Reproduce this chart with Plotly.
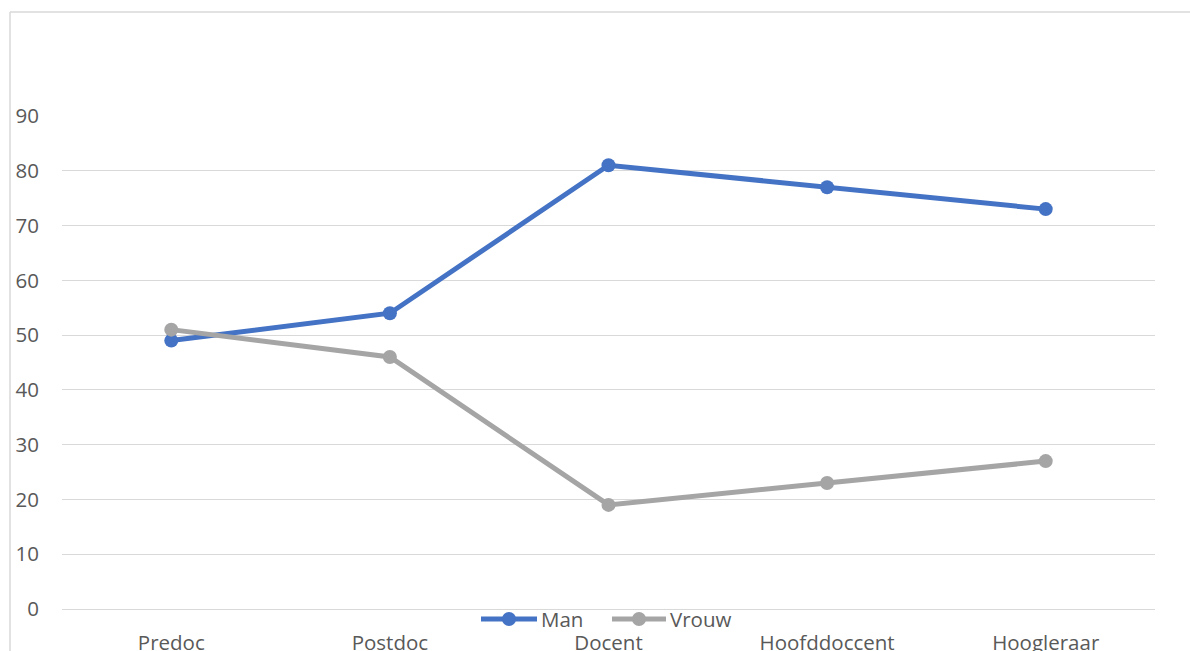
import plotly.graph_objects as go

# Staff categories and gender shares (%)
categories = ["Predoc", "Postdoc", "Docent", "Hoofddoccent", "Hoogleraar"]
man = [49, 54, 81, 77, 73]
vrouw = [51, 46, 19, 23, 27]
y_ticks = [0, 10, 20, 30, 40, 50, 60, 70, 80, 90]

W, H = 1190, 651
L, R, T, B = 62, 35, 116, 42
PW, PH = W - L - R, H - T - B
FONT = "'Open Sans', sans-serif"
FS = 20.5
TXT = "#595959"
BLUE, GREY = "#4472C4", "#A5A5A5"


def px(x):
    return (x - L) / PW


def py(y):
    return (H - B - y) / PH


fig = go.Figure()
fig.add_trace(go.Scatter(
    x=categories, y=man, name="Man", mode="lines+markers",
    line=dict(color=BLUE, width=5),
    marker=dict(color=BLUE, size=14),
    showlegend=False,
))
fig.add_trace(go.Scatter(
    x=categories, y=vrouw, name="Vrouw", mode="lines+markers",
    line=dict(color=GREY, width=5),
    marker=dict(color=GREY, size=14),
    showlegend=False,
))

# Outer chart frame (top and left edges visible)
frame = dict(color="#D9D9D9", width=1.5)
fig.add_shape(type="line", xref="paper", yref="paper",
              x0=px(10), x1=px(W + 20), y0=py(12), y1=py(12), line=frame)
fig.add_shape(type="line", xref="paper", yref="paper",
              x0=px(10), x1=px(10), y0=py(12), y1=py(H + 20), line=frame)

# Legend entries: line with centred marker, followed by label
legend_items = [("Man", BLUE, 481, 537), ("Vrouw", GREY, 612, 666)]
ly = 619
for name, col, x0, x1 in legend_items:
    fig.add_shape(type="line", xref="paper", yref="paper",
                  x0=px(x0), x1=px(x1), y0=py(ly), y1=py(ly),
                  line=dict(color=col, width=5))
    cx = (x0 + x1) / 2
    r = 7
    fig.add_shape(type="circle", xref="paper", yref="paper",
                  x0=px(cx - r), x1=px(cx + r), y0=py(ly - r), y1=py(ly + r),
                  fillcolor=col, line=dict(width=0))
    fig.add_annotation(xref="paper", yref="paper", x=px(x1 + 2), y=py(ly),
                       text=name, showarrow=False, xanchor="left", yanchor="middle",
                       font=dict(family=FONT, size=FS, color=TXT))

fig.update_layout(
    width=W, height=H,
    margin=dict(l=L, r=R, t=T, b=B, autoexpand=False),
    paper_bgcolor="white", plot_bgcolor="white",
    font=dict(family=FONT, size=FS, color=TXT),
    showlegend=False,
    xaxis=dict(
        type="category", range=[-0.5, 4.5],
        showgrid=False, zeroline=False, showline=False,
        ticks="", ticklabelstandoff=19,
        tickfont=dict(family=FONT, size=FS, color=TXT),
        fixedrange=True,
    ),
    yaxis=dict(
        range=[0, 90], tickvals=y_ticks,
        showgrid=True, gridcolor="#D9D9D9", gridwidth=1.3,
        zeroline=True, zerolinecolor="#D9D9D9", zerolinewidth=1.3,
        showline=False, ticks="",
        ticklabelstandoff=22,
        tickfont=dict(family=FONT, size=FS, color=TXT),
        fixedrange=True,
    ),
)

fig.write_html("out.html")
